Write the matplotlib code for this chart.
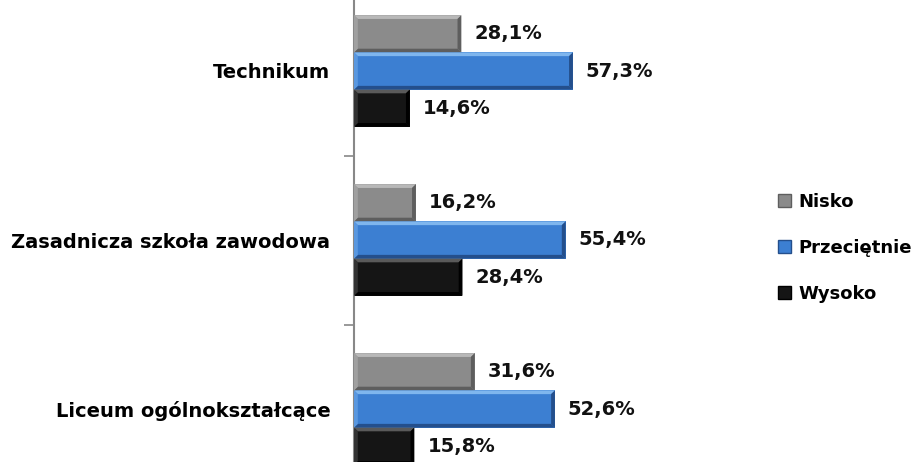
import numpy as np
import matplotlib
matplotlib.use('Agg')
import matplotlib.pyplot as plt
from matplotlib.patches import Polygon, Patch

categories = ['Liceum ogólnokształcące', 'Zasadnicza szkoła zawodowa', 'Technikum']
series = ['Nisko', 'Przeciętnie', 'Wysoko']
nisko = [31.6, 16.2, 28.1]
przecietnie = [52.6, 55.4, 57.3]
wysoko = [15.8, 28.4, 14.6]
values = [nisko, przecietnie, wysoko]

# face, top bevel, bottom/right bevel, left bevel
colors = [('#8b8b8b', '#b8b8b8', '#5e5e5e', '#a0a0a0'),
          ('#3c7fd2', '#7fb6ee', '#244f8c', '#5a98e0'),
          ('#151515', '#5a5a5a', '#000000', '#333333')]

plt.rcParams['font.family'] = ['DejaVu Sans']

fig = plt.figure(figsize=(9.24, 4.62), dpi=100)
ax = fig.add_axes([354 / 924, -31.5 / 462, 382 / 924, 507 / 462])

y = np.arange(len(categories))
h = 0.22
offsets = [h, 0, -h]
bx = 1.0    # bevel width in data x units (~4 px)
by = 0.022  # bevel height in data y units (~4 px)

for vals, off, (face, top, dark, left) in zip(values, offsets, colors):
    bars = ax.barh(y + off, vals, height=h, color=face, linewidth=0, zorder=2)
    for b, v in zip(bars, vals):
        x0, y0, w, hh = b.get_x(), b.get_y(), b.get_width(), b.get_height()
        x1, y1 = x0 + w, y0 + hh
        ax.add_patch(Polygon([(x0, y1), (x1, y1), (x1 - bx, y1 - by), (x0 + bx, y1 - by)],
                             closed=True, color=top, lw=0, zorder=3))
        ax.add_patch(Polygon([(x0, y0), (x1, y0), (x1 - bx, y0 + by), (x0 + bx, y0 + by)],
                             closed=True, color=dark, lw=0, zorder=3))
        ax.add_patch(Polygon([(x1, y0), (x1, y1), (x1 - bx, y1 - by), (x1 - bx, y0 + by)],
                             closed=True, color=dark, lw=0, zorder=3))
        ax.add_patch(Polygon([(x0, y0), (x0, y1), (x0 + bx, y1 - by), (x0 + bx, y0 + by)],
                             closed=True, color=left, lw=0, zorder=3))
        ax.text(v + 3.4, y0 + hh / 2, f'{v:.1f}%'.replace('.', ','),
                va='center', ha='left', fontsize=14, fontweight='bold', color='#111111')

ax.set_xlim(0, 100)
ax.set_ylim(-0.5, 2.5)
ax.set_yticks(y)
ax.set_yticklabels(categories, fontsize=14, fontweight='bold')
ax.set_yticks([0.5, 1.5], minor=True)
ax.tick_params(axis='y', which='major', length=0, pad=17)
ax.tick_params(axis='y', which='minor', length=7, width=1.2, color='#888888')
ax.set_xticks([])
for s in ['top', 'right', 'bottom']:
    ax.spines[s].set_visible(False)
ax.spines['left'].set_color('#888888')
ax.spines['left'].set_linewidth(1.5)

handles = [Patch(facecolor=c[0], edgecolor=c[2]) for c in colors]
fig.legend(handles, series, loc='center left', bbox_to_anchor=(762 / 924, (462 - 248) / 462),
           frameon=False, prop={'weight': 'bold', 'size': 13},
           handlelength=0.7, handleheight=0.7, handletextpad=0.4, labelspacing=1.55)

fig.savefig('out.png', dpi=100)
